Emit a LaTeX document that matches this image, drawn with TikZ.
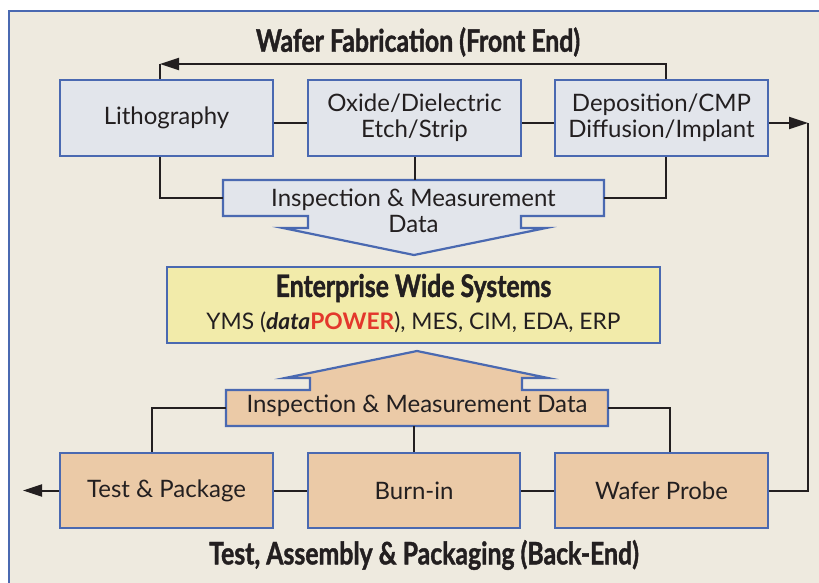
\documentclass[tikz,border=0pt]{standalone}
\usepackage{fontspec}
\setmainfont{Lato}
\newfontfamily\condfont[FakeStretch=0.8, BoldFeatures={FakeBold=1.3}]{Lato}
\usetikzlibrary{arrows.meta}
\definecolor{bg}{HTML}{EEEADF}
\definecolor{bluefill}{HTML}{E2E5EB}
\definecolor{orangefill}{HTML}{EBCAA7}
\definecolor{yellowfill}{HTML}{F2EBAA}
\definecolor{bordercol}{HTML}{4A69B1}
\definecolor{linecol}{HTML}{231F20}
\definecolor{powerred}{HTML}{E3372C}
\tikzset{
  box/.style={draw=bordercol, line width=2.2pt, minimum width=213pt, minimum height=76pt,
    inner sep=0pt, align=center, font=\fontsize{24}{26}\selectfont, text=linecol},
  bluebox/.style={box, fill=bluefill},
  orangebox/.style={box, fill=orangefill},
  callout/.style={draw=bordercol, line width=2.2pt, line join=miter},
  conn/.style={draw=linecol, line width=2pt},
  arr/.style={conn, -{Triangle[length=19pt,width=12pt]}},
  title/.style={font=\condfont\bfseries\fontsize{31}{34}\selectfont, text=linecol, inner sep=0pt},
  txt/.style={font=\fontsize{24}{26}\selectfont, text=linecol, align=center, inner sep=0pt},
  frame/.style={draw=bordercol, line width=2pt}
}
\begin{document}
\begin{tikzpicture}[x=1pt,y=-1pt]
\useasboundingbox (0,0) rectangle (819,582);
\fill[white] (0,0) rectangle (819,582);
\fill[bg] (9,11) rectangle (830,600);
\draw[frame] (9,600) -- (9,11) -- (830,11);

% titles
\node[title] (t1) at (418,42) {Wafer Fabrication (Front End)};
\node[title] (t2) at (424,555) {Test, Assembly \& Packaging (Back-End)};

% front-end boxes
\node[bluebox] (litho) at (166.5,118) {Lithography};
\node[bluebox] (oxide) at (414.5,118) {Oxide/Dielectric\\Etch/Strip};
\node[bluebox] (dep) at (661.5,118) {Deposition/CMP\\Diffusion/Implant};

% top inspection callout
\fill[bluefill] (223,180) -- (604,180) -- (604,216) -- (521,216) -- (521,228) -- (546,228)
  -- (414,255) -- (283,228) -- (308,228) -- (308,216) -- (223,216) -- cycle;
\draw[callout] (223,180) -- (604,180) -- (604,216) -- (521,216) -- (521,228) -- (546,228)
  -- (414,255) -- (283,228) -- (308,228) -- (308,216) -- (223,216) -- cycle;
\node[minimum width=381pt, minimum height=36pt, inner sep=0pt] (insp1) at (413.5,198) {};
\node[txt] (insp1t) at (413.5,211) {Inspection \& Measurement\\Data};

% enterprise box
\node[draw=bordercol, line width=2.2pt, fill=yellowfill, minimum width=493pt, minimum height=76pt,
  inner sep=0pt] (ent) at (413.5,305) {};
\node[title] (entt) at (413.5,288) {Enterprise Wide Systems};
\node[txt, font=\fontsize{22.8}{26}\selectfont] (ents) at (413.5,322) {YMS ({\bfseries\itshape data}{\bfseries\color{powerred}POWER}), MES, CIM, EDA, ERP};

% bottom inspection callout
\fill[orangefill] (226,426) -- (608,426) -- (608,390) -- (522,390) -- (522,378) -- (548,378)
  -- (417,351) -- (285,378) -- (310,378) -- (310,390) -- (226,390) -- cycle;
\draw[callout] (226,426) -- (608,426) -- (608,390) -- (522,390) -- (522,378) -- (548,378)
  -- (417,351) -- (285,378) -- (310,378) -- (310,390) -- (226,390) -- cycle;
\node[minimum width=382pt, minimum height=36pt, inner sep=0pt] (insp2) at (417,408) {};
\node[txt] (insp2t) at (417,406) {Inspection \& Measurement Data};

% back-end boxes
\node[orangebox, minimum height=75pt] (tp) at (166.5,490.5) {Test \& Package};
\node[orangebox, minimum height=75pt, minimum width=212pt] (burn) at (414,490.5) {Burn-in};
\node[orangebox, minimum height=75pt] (probe) at (661.5,490.5) {Wafer Probe};

% coordinates
\coordinate (h1) at (0,123);
\coordinate (tl) at (160,64);
\coordinate (tr) at (666,64);
\coordinate (rr) at (808,123);
\coordinate (lt) at (23,490.5);
\coordinate (bl) at (152,0);
\coordinate (br) at (670,0);

% front-end connectors
\draw[conn] (litho.east |- h1) -- (oxide.west |- h1);
\draw[conn] (oxide.east |- h1) -- (dep.west |- h1);
\draw[arr] (dep.north -| tr) -- (tr) -- (tl);
\draw[conn] (tl) -- (litho.north -| tl);
\draw[conn] (litho.south -| tl) |- (insp1.west);
\draw[conn] (dep.south -| tr) |- (insp1.east);
\draw[conn] (oxide.south) -- (oxide.south |- insp1.north);
\draw[arr] (dep.east |- h1) -- (rr);
\draw[conn] (rr) |- (probe.east);

% back-end connectors
\draw[conn] (tp.east) -- (burn.west);
\draw[conn] (burn.east) -- (probe.west);
\draw[arr] (tp.west) -- (lt);
\draw[conn] (tp.north -| bl) |- (insp2.west);
\draw[conn] (probe.north -| br) |- (insp2.east);
\draw[conn] (burn.north) -- (burn.north |- insp2.south);
\end{tikzpicture}
\end{document}
